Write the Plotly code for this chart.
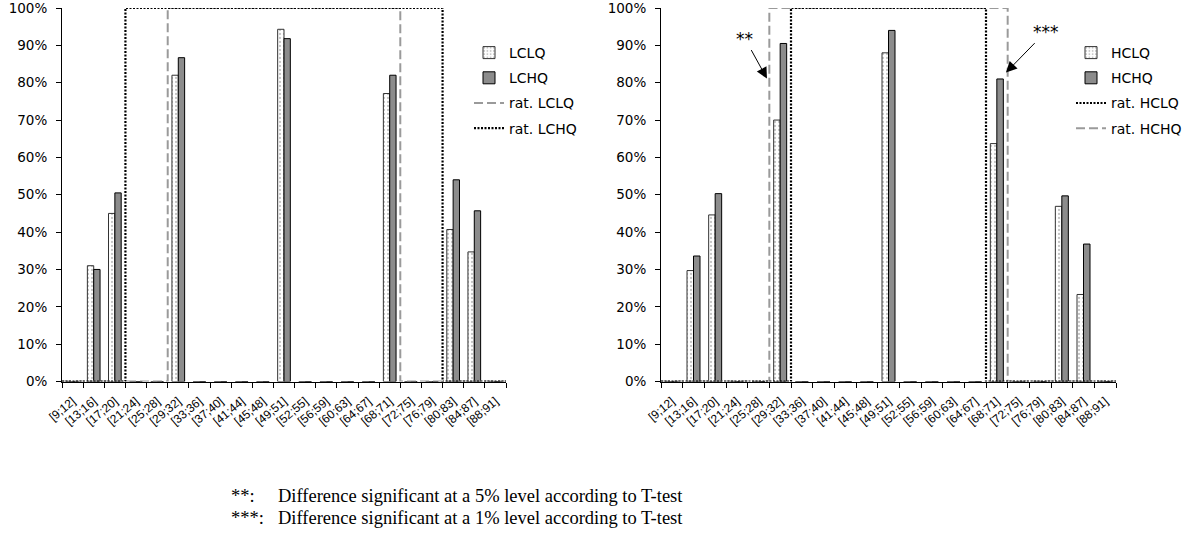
import plotly.graph_objects as go

# ---------------- data ----------------
categories = ["[9;12]", "[13;16]", "[17;20]", "[21;24]", "[25;28]", "[29;32]", "[33;36]",
              "[37;40]", "[41;44]", "[45;48]", "[49;51]", "[52;55]", "[56;59]", "[60;63]",
              "[64;67]", "[68;71]", "[72;75]", "[76;79]", "[80;83]", "[84;87]", "[88;91]"]

lclq = [0, 0.31, 0.45, 0, 0, 0.82, 0, 0, 0, 0, 0.943, 0, 0, 0, 0, 0.771, 0, 0, 0.407, 0.347, 0]
lchq = [0, 0.30, 0.505, 0, 0, 0.867, 0, 0, 0, 0, 0.918, 0, 0, 0, 0, 0.82, 0, 0, 0.54, 0.457, 0]
hclq = [0, 0.297, 0.446, 0, 0, 0.70, 0, 0, 0, 0, 0.88, 0, 0, 0, 0, 0.637, 0, 0, 0.469, 0.233, 0]
hchq = [0, 0.336, 0.503, 0, 0, 0.905, 0, 0, 0, 0, 0.94, 0, 0, 0, 0, 0.81, 0, 0, 0.497, 0.368, 0]

rat_lclq = [0, 0, 0, 0, 0, 1, 1, 1, 1, 1, 1, 1, 1, 1, 1, 1, 0, 0, 0, 0, 0]
rat_lchq = [0, 0, 0, 1, 1, 1, 1, 1, 1, 1, 1, 1, 1, 1, 1, 1, 1, 1, 0, 0, 0]
rat_hclq = [0, 0, 0, 0, 0, 0, 1, 1, 1, 1, 1, 1, 1, 1, 1, 0, 0, 0, 0, 0, 0]
rat_hchq = [0, 0, 0, 0, 0, 1, 1, 1, 1, 1, 1, 1, 1, 1, 1, 1, 0, 0, 0, 0, 0]

ytick_values = [0, 0.1, 0.2, 0.3, 0.4, 0.5, 0.6, 0.7, 0.8, 0.9, 1.0]
ytick_labels = ["0%", "10%", "20%", "30%", "40%", "50%", "60%", "70%", "80%", "90%", "100%"]

footnotes = [("**:", "Difference significant at a 5% level according to T-test"),
             ("***:", "Difference significant at a 1% level according to T-test")]

# ---------------- styling ----------------
W, H = 1197, 542
n = len(categories)
xpos = list(range(n))
GRAY_BAR = "#8c8c8c"
DASH_GRAY = "#9a9a9a"
TICKFONT = dict(family="DejaVu Sans", size=13.5, color="black")
XTICKFONT = dict(family="Liberation Sans", size=12, color="black")
LEGFONT = dict(family="DejaVu Sans", size=14, color="black")


def step(vals):
    xs = [i - 0.5 for i in range(len(vals) + 1)]
    ys = list(vals) + [vals[-1]]
    return xs, ys


fig = go.Figure()


def add_bars(vals, name, xa, ya, leg, rank, light):
    if light:
        marker = dict(color="white", line=dict(color="#333333", width=1),
                      pattern=dict(shape=".", fgcolor="#8a8a8a", bgcolor="white",
                                   size=4, solidity=0.25))
    else:
        marker = dict(color=GRAY_BAR, line=dict(color="black", width=1))
    fig.add_trace(go.Bar(x=xpos, y=vals, name=name, xaxis=xa, yaxis=ya, marker=marker,
                         legend=leg, legendrank=rank, legendgroup=name, hoverinfo="skip"))


def add_rat(vals, name, xa, ya, leg, rank, dotted):
    xs, ys = step(vals)
    if dotted:
        line = dict(color="black", width=2.2, dash="2px,1.5px", shape="hv")
    else:
        line = dict(color=DASH_GRAY, width=2, dash="9px,4px", shape="hv")
    fig.add_trace(go.Scatter(x=xs, y=ys, mode="lines", name=name, xaxis=xa, yaxis=ya,
                             line=line, cliponaxis=False, legend=leg, legendrank=rank,
                             legendgroup=name, hoverinfo="skip"))


# left chart
add_bars(lclq, "LCLQ", "x", "y", "legend", 1, True)
add_bars(lchq, "LCHQ", "x", "y", "legend", 2, False)
add_rat(rat_lclq, "rat. LCLQ", "x", "y", "legend", 3, False)
add_rat(rat_lchq, "rat. LCHQ", "x", "y", "legend", 4, True)

# right chart
add_bars(hclq, "HCLQ", "x2", "y2", "legend2", 1, True)
add_bars(hchq, "HCHQ", "x2", "y2", "legend2", 2, False)
add_rat(rat_hchq, "rat. HCHQ", "x2", "y2", "legend2", 4, False)
add_rat(rat_hclq, "rat. HCLQ", "x2", "y2", "legend2", 3, True)

ydom = [1 - 381.5 / H, 1 - 8 / H]
xdom_l = [62 / W, 506 / W]
xdom_r = [661 / W, 1116 / W]

xaxis_common = dict(range=[-0.5, n - 0.5], tickmode="array", tickvals=xpos,
                    ticktext=categories, tickangle=-40, ticks="", showline=True,
                    linecolor="black", linewidth=1, showgrid=False, zeroline=False,
                    tickfont=XTICKFONT, ticklabelstandoff=7, automargin=False,
                    ticklabeloverflow="allow",
                    minor=dict(tickmode="array", tickvals=[i - 0.5 for i in range(n + 1)],
                               ticks="outside", ticklen=5, tickcolor="black", tickwidth=1,
                               showgrid=False))
yaxis_common = dict(range=[0, 1], tickmode="array", tickvals=ytick_values,
                    ticktext=ytick_labels,
                    ticks="outside", ticklen=5, tickcolor="black", showline=True,
                    linecolor="black", linewidth=1, showgrid=False, zeroline=False,
                    tickfont=TICKFONT, ticklabelstandoff=6, automargin=False,
                    ticklabeloverflow="allow")

fig.update_layout(
    width=W, height=H,
    margin=dict(l=0, r=0, t=0, b=0, autoexpand=False),
    paper_bgcolor="white", plot_bgcolor="white",
    barmode="group", bargap=0.4, bargroupgap=0,
    xaxis=dict(domain=xdom_l, anchor="y", **xaxis_common),
    yaxis=dict(domain=ydom, anchor="x", **yaxis_common),
    xaxis2=dict(domain=xdom_r, anchor="y2", **xaxis_common),
    yaxis2=dict(domain=ydom, anchor="x2", **yaxis_common),
    legend=dict(x=469 / W, y=1 - 37 / H, xanchor="left", yanchor="top", font=LEGFONT,
                bgcolor="rgba(0,0,0,0)", traceorder="grouped", tracegroupgap=4,
                itemwidth=30),
    legend2=dict(x=1071 / W, y=1 - 37 / H, xanchor="left", yanchor="top", font=LEGFONT,
                 bgcolor="rgba(0,0,0,0)", traceorder="grouped", tracegroupgap=4,
                 itemwidth=30),
    showlegend=True,
)

# significance arrows on the right chart
fig.add_annotation(x=4.39, y=0.811, xref="x2", yref="y2", text="**", showarrow=True,
                   ax=-22, ay=-40, arrowhead=2, arrowsize=2.2, arrowwidth=1,
                   arrowcolor="black", font=dict(family="DejaVu Sans", size=17, color="black"))
fig.add_annotation(x=15.42, y=0.827, xref="x2", yref="y2", text="***", showarrow=True,
                   ax=40, ay=-41, arrowhead=2, arrowsize=2.2, arrowwidth=1,
                   arrowcolor="black", font=dict(family="DejaVu Sans", size=17, color="black"))

# footnotes
SERIF = dict(family="Liberation Serif", size=18.5, color="black")
for i, (mark, txt) in enumerate(footnotes):
    yy = 1 - (496 + 22 * i) / H
    fig.add_annotation(x=229 / W, y=yy, xref="paper", yref="paper", text=mark,
                       showarrow=False, xanchor="left", yanchor="middle", font=SERIF)
    fig.add_annotation(x=276 / W, y=yy, xref="paper", yref="paper", text=txt,
                       showarrow=False, xanchor="left", yanchor="middle", font=SERIF)

fig.write_html("out.html", config={"displayModeBar": False},
               post_script="document.body.style.margin='0px';")
